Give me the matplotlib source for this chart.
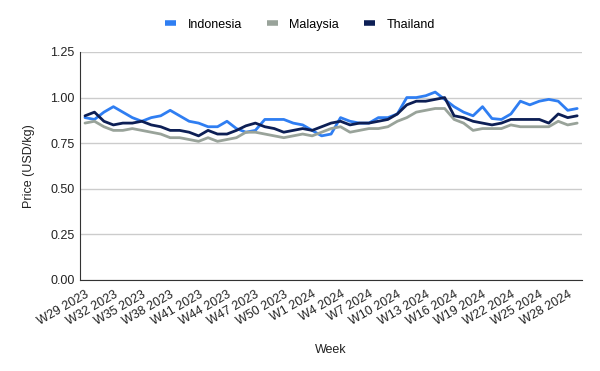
import matplotlib.pyplot as plt

plt.rcParams['font.family'] = ['Liberation Sans', 'DejaVu Sans']

# weeks W29 2023 .. W29 2024
weeks = [f"W{w} 2023" for w in range(29, 53)] + [f"W{w} 2024" for w in range(1, 30)]

indonesia = [0.89, 0.88, 0.92, 0.95, 0.92, 0.89, 0.87, 0.89, 0.90, 0.93,
             0.90, 0.87, 0.86, 0.84, 0.84, 0.87, 0.83, 0.81, 0.82, 0.88,
             0.88, 0.88, 0.86, 0.85, 0.82, 0.79, 0.80, 0.89, 0.87, 0.86,
             0.86, 0.89, 0.89, 0.91, 1.00, 1.00, 1.01, 1.03, 0.99, 0.95,
             0.92, 0.90, 0.95, 0.885, 0.88, 0.91, 0.98, 0.96, 0.98, 0.99,
             0.98, 0.93, 0.94]
malaysia = [0.86, 0.87, 0.84, 0.82, 0.82, 0.83, 0.82, 0.81, 0.80, 0.78,
            0.78, 0.77, 0.76, 0.78, 0.76, 0.77, 0.78, 0.81, 0.81, 0.80,
            0.79, 0.78, 0.79, 0.80, 0.79, 0.81, 0.83, 0.84, 0.81, 0.82,
            0.83, 0.83, 0.84, 0.87, 0.89, 0.92, 0.93, 0.94, 0.94, 0.88,
            0.86, 0.82, 0.83, 0.83, 0.83, 0.85, 0.84, 0.84, 0.84, 0.84,
            0.87, 0.85, 0.86]
thailand = [0.90, 0.92, 0.87, 0.85, 0.86, 0.86, 0.87, 0.85, 0.84, 0.82,
            0.82, 0.81, 0.79, 0.82, 0.80, 0.80, 0.82, 0.845, 0.86, 0.84,
            0.83, 0.81, 0.82, 0.83, 0.82, 0.84, 0.86, 0.87, 0.85, 0.86,
            0.86, 0.87, 0.88, 0.91, 0.96, 0.98, 0.98, 0.99, 1.00, 0.90,
            0.89, 0.87, 0.86, 0.85, 0.86, 0.88, 0.88, 0.88, 0.88, 0.86,
            0.91, 0.89, 0.90]

series = [("Indonesia", indonesia, "#2f7ef2"),
          ("Malaysia", malaysia, "#99a39a"),
          ("Thailand", thailand, "#0d1f55")]

fig = plt.figure(figsize=(6, 3.71), dpi=100)
ax = fig.add_axes([0.1333, 0.2453, 0.837, 0.6147])

x = list(range(len(weeks)))
for name, vals, c in series:
    ax.plot(x, vals, color=c, lw=2, label=name, solid_joinstyle="round",
            solid_capstyle="round")

ax.set_xlim(-0.53, len(weeks) - 1 + 0.53)
ax.set_ylim(0, 1.25)
yt = [0, 0.25, 0.5, 0.75, 1.0, 1.25]
ax.set_yticks(yt)
ax.set_yticklabels([f"{v:.2f}" for v in yt], fontsize=9, color="#222222")
ticks = x[::3]
ax.set_xticks(ticks)
ax.set_xticklabels([weeks[i] for i in ticks], rotation=30, ha="right",
                   rotation_mode="anchor", fontsize=9, color="#222222")
ax.tick_params(length=0, pad=4)
ax.tick_params(axis="x", pad=6)

ax.grid(axis="y", color="#cccccc", lw=1)
ax.set_axisbelow(True)
for s in ["top", "right"]:
    ax.spines[s].set_visible(False)
ax.spines["left"].set_color("#333333")
ax.spines["bottom"].set_color("#333333")

ax.set_ylabel("Price (USD/kg)", fontsize=9, color="#222222", labelpad=11)
ax.set_xlabel("Week", fontsize=9, color="#222222", labelpad=12)

leg = fig.legend(loc="center", bbox_to_anchor=(0.5, 0.933), ncol=3,
                 frameon=False, fontsize=9, handlelength=0.9,
                 handletextpad=0.9, columnspacing=2.0)
for h in leg.get_lines():
    h.set_linewidth(4)
    h.set_solid_capstyle("butt")

fig.savefig("out.png", dpi=100, facecolor="white")
